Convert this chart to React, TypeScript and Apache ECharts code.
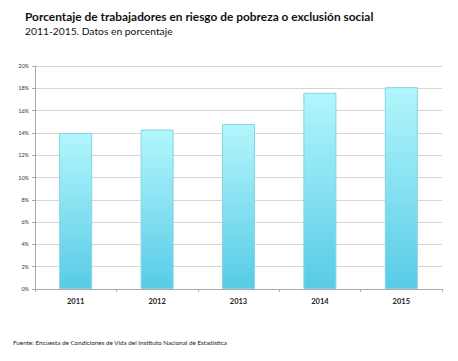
import React, { useEffect, useRef } from "react";
import * as echarts from "echarts";

const categories = ["2011", "2012", "2013", "2014", "2015"];
const values = [14.0, 14.3, 14.8, 17.6, 18.1];
const yTicks = { min: 0, max: 20, interval: 2 };

const titleText = "Porcentaje de trabajadores en riesgo de pobreza o exclusión social";
const subtitleText = "2011-2015. Datos en porcentaje";
const sourceText = "Fuente: Encuesta de Condiciones de Vida del Instituto Nacional de Estadística";

export default function App() {
  const ref = useRef<HTMLDivElement>(null);
  useEffect(() => {
    if (!ref.current) return;
    const chart = echarts.init(ref.current, null, { renderer: "svg" });
    chart.setOption({
      animation: false,
      backgroundColor: "#ffffff",
      title: [
        {
          text: titleText,
          left: 20,
          top: 5,
          textStyle: { fontFamily: "Lato", fontWeight: "bold", fontSize: 11.9, color: "#111" },
        },
        {
          text: subtitleText,
          left: 20,
          top: 21,
          textStyle: { fontFamily: "Lato", fontWeight: "normal", fontSize: 10.3, color: "#111" },
        },
        {
          text: sourceText,
          left: 8,
          top: 334,
          textStyle: { fontFamily: "Lato", fontWeight: "normal", fontSize: 6.3, color: "#222" },
        },
      ],
      grid: { left: 35, right: 16, top: 66, bottom: 72, containLabel: false },
      xAxis: {
        type: "category",
        data: categories,
        boundaryGap: true,
        axisLine: { lineStyle: { color: "#aaa", width: 1 } },
        axisTick: { show: true, length: 3, lineStyle: { color: "#aaa" } },
        axisLabel: { fontFamily: "Lato", fontWeight: "bold", fontSize: 7.5, color: "#222", margin: 8 },
      },
      yAxis: {
        type: "value",
        min: yTicks.min,
        max: yTicks.max,
        interval: yTicks.interval,
        axisLine: { show: true, lineStyle: { color: "#aaa" } },
        axisTick: { show: true, length: 3, lineStyle: { color: "#aaa" } },
        axisLabel: { formatter: "{value}%", fontFamily: "Lato", fontSize: 5.5, color: "#333", margin: 6 },
        splitLine: { lineStyle: { color: "#d6d6d6", width: 1.2 } },
      },
      series: [
        {
          type: "bar",
          data: values,
          barWidth: 33,
          itemStyle: {
            color: new echarts.graphic.LinearGradient(0, 0, 0, 1, [
              { offset: 0, color: "#b2f6fc" },
              { offset: 1, color: "#58cbe6" },
            ]),
            borderColor: "#86d3e3",
            borderWidth: 1,
          },
        },
      ],
    });
    return () => chart.dispose();
  }, []);
  return <div ref={ref} style={{ width: 458, height: 361, margin: -8 }} />;
}
